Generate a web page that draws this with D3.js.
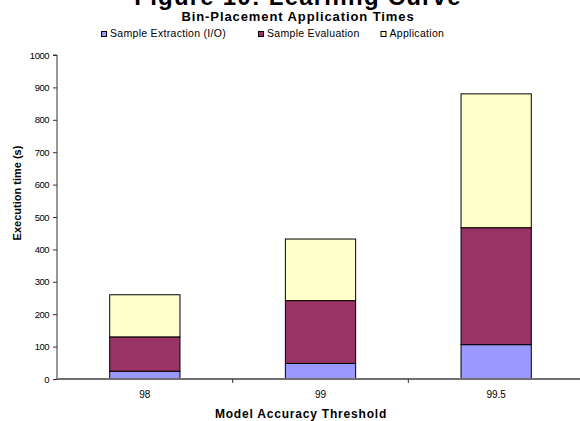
<!DOCTYPE html>
<html>
<head>
<meta charset="utf-8">
<script src="https://cdn.jsdelivr.net/npm/d3@7"></script>
<style>
  html, body { margin: 0; padding: 0; background: #fff; }
  svg { display: block; font-family: Arial, "Liberation Sans", sans-serif; }
</style>
</head>
<body>
<svg id="chart" width="580" height="421"></svg>
<script>
// Model accuracy thresholds and per-stage execution times (seconds)
const categories = ["98", "99", "99.5"];
const seriesNames = ["Sample Extraction (I/O)", "Sample Evaluation", "Application"];
const extraction = [24, 48, 106];
const evaluation = [106, 194, 361];
const application = [130, 190, 413];
const yTicks = [0, 100, 200, 300, 400, 500, 600, 700, 800, 900, 1000];
const colors = ["#9999FF", "#993366", "#FFFFCC"];

const rows = categories.map((c, i) => ({
  cat: c,
  [seriesNames[0]]: extraction[i],
  [seriesNames[1]]: evaluation[i],
  [seriesNames[2]]: application[i]
}));

const svg = d3.select("#chart");
const margin = { left: 57, top: 55, right: 584, bottom: 379 };

const x = d3.scaleBand().domain(categories).range([margin.left, margin.right]).paddingInner(0.6).paddingOuter(0.3);
const y = d3.scaleLinear().domain([0, 1000]).range([margin.bottom, margin.top]);

const layers = d3.stack().keys(seriesNames)(rows);

// stacked bars
svg.append("g").selectAll("g")
  .data(layers)
  .join("g")
  .attr("fill", (d, i) => colors[i])
  .selectAll("rect")
  .data(d => d)
  .join("rect")
  .attr("x", d => x(d.data.cat))
  .attr("y", d => y(d[1]))
  .attr("width", x.bandwidth())
  .attr("height", d => y(d[0]) - y(d[1]))
  .attr("stroke", "#000")
  .attr("stroke-width", 1);

// y axis
const yAxis = svg.append("g")
  .attr("transform", `translate(${margin.left},0)`)
  .call(d3.axisLeft(y).tickValues(yTicks).tickSize(4).tickPadding(4).tickFormat(d3.format("d")));
yAxis.select(".domain").attr("stroke", "#333").attr("d", `M-4,${margin.top}H0V${margin.bottom}`);
yAxis.selectAll(".tick line").attr("stroke", "#333");
yAxis.selectAll(".tick text")
  .attr("font-size", 9.5)
  .attr("letter-spacing", -0.5)
  .attr("fill", "#000")
  .attr("font-family", "Arial, 'Liberation Sans', sans-serif");

// x axis: ticks between categories
const step = x.step();
const xAxisG = svg.append("g");
xAxisG.append("line")
  .attr("x1", margin.left).attr("x2", margin.right)
  .attr("y1", y(0)).attr("y2", y(0))
  .attr("stroke", "#707070").attr("stroke-width", 2);
xAxisG.selectAll("line.tk")
  .data(categories.slice(1))
  .join("line")
  .attr("class", "tk")
  .attr("x1", d => x(d) + x.bandwidth() / 2 - step / 2)
  .attr("x2", d => x(d) + x.bandwidth() / 2 - step / 2)
  .attr("y1", y(0)).attr("y2", y(0) + 4)
  .attr("stroke", "#333");
xAxisG.selectAll("text")
  .data(categories)
  .join("text")
  .attr("x", d => x(d) + x.bandwidth() / 2)
  .attr("y", y(0) + 19)
  .attr("text-anchor", "middle")
  .attr("font-size", 10)
  .text(d => d);

// axis titles
svg.append("text")
  .attr("x", 301).attr("y", 417.5)
  .attr("text-anchor", "middle")
  .attr("font-size", 12).attr("font-weight", "bold")
  .attr("letter-spacing", 0.8)
  .text("Model Accuracy Threshold");

svg.append("text")
  .attr("transform", "translate(20.5,193) rotate(-90)")
  .attr("text-anchor", "middle")
  .attr("font-size", 11).attr("font-weight", "bold")
  .text("Execution time (s)");

// titles
svg.append("text")
  .attr("x", 298).attr("y", 5)
  .attr("text-anchor", "middle")
  .attr("font-size", 24).attr("font-weight", "bold")
  .attr("letter-spacing", 1.2)
  .text("Figure 10: Learning Curve");

svg.append("text")
  .attr("x", 298).attr("y", 21)
  .attr("text-anchor", "middle")
  .attr("font-size", 13).attr("font-weight", "bold")
  .attr("letter-spacing", 0.9)
  .text("Bin-Placement Application Times");

// legend
const legendX = [101.5, 258.5, 381];
const legend = svg.append("g").selectAll("g")
  .data(seriesNames)
  .join("g")
  .attr("transform", (d, i) => `translate(${legendX[i]},31.5)`);
legend.append("rect")
  .attr("width", 5).attr("height", 5)
  .attr("fill", (d, i) => colors[i])
  .attr("stroke", "#000").attr("stroke-width", 1);
legend.append("text")
  .attr("x", 8.5).attr("y", 5.5)
  .attr("font-size", 10.5)
  .attr("letter-spacing", 0.3)
  .text(d => d);
</script>
</body>
</html>
